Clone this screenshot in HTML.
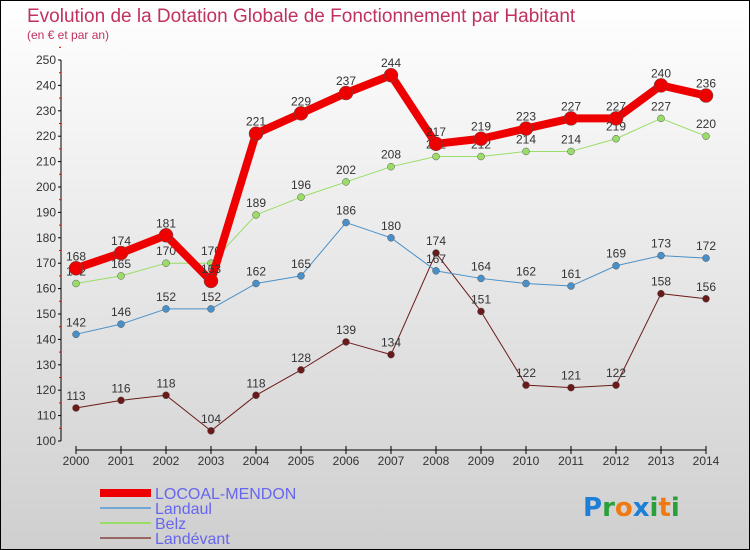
<!DOCTYPE html>
<html><head><meta charset="utf-8"><style>
body{margin:0}
#c{position:relative;width:750px;height:550px;overflow:hidden;font-family:"Liberation Sans",sans-serif}
</style></head><body>
<div id="c">
<svg id="s" width="750" height="550" xmlns="http://www.w3.org/2000/svg">
<defs><linearGradient id="bg" x1="0" y1="0" x2="0" y2="1"><stop offset="0" stop-color="#ffffff"/><stop offset="1" stop-color="#cfcfcf"/></linearGradient></defs>
<rect x="0.5" y="0.5" width="749" height="549" fill="url(#bg)" stroke="#000"/>
<text x="27" y="22" font-size="19" fill="#c0325e">Evolution de la Dotation Globale de Fonctionnement par Habitant</text>
<text x="27" y="39" font-size="12" fill="#c0325e">(en € et par an)</text>
<g id="axes"></g><g id="series"></g>
<g>
<line x1="100" y1="493" x2="151" y2="493" stroke="#e00" stroke-width="8"/>
<text x="155" y="499" font-size="16" fill="#6666ee">LOCOAL-MENDON</text>
<line x1="100" y1="508" x2="151" y2="508" stroke="#6fa8d6" stroke-width="2"/>
<text x="155" y="514" font-size="16" fill="#6666ee">Landaul</text>
<line x1="100" y1="523" x2="151" y2="523" stroke="#99dd66" stroke-width="2"/>
<text x="155" y="529" font-size="16" fill="#6666ee">Belz</text>
<line x1="100" y1="538" x2="151" y2="538" stroke="#996666" stroke-width="2"/>
<text x="155" y="544" font-size="16" fill="#6666ee">Landévant</text>
</g>
<g font-size="26" font-weight="bold" font-family="'DejaVu Sans',sans-serif">
<text x="583" y="516"><tspan fill="#1e7fd6">P</tspan><tspan fill="#2aa03a">r</tspan><tspan fill="#f07a10">o</tspan><tspan fill="#1e7fd6">x</tspan><tspan fill="#2aa03a">i</tspan><tspan fill="#f07a10">t</tspan><tspan fill="#2aa03a">i</tspan></text>
</g>
</svg></div>
<script>
const years=[2000,2001,2002,2003,2004,2005,2006,2007,2008,2009,2010,2011,2012,2013,2014];
const locoal=[168,174,181,163,221,229,237,244,217,219,223,227,227,240,236];
const landaul=[142,146,152,152,162,165,186,180,167,164,162,161,169,173,172];
const belz=[162,165,170,170,189,196,202,208,212,212,214,214,219,227,220];
const landevant=[113,116,118,104,118,128,139,134,174,151,122,121,122,158,156];
const yTicks=[100,110,120,130,140,150,160,170,180,190,200,210,220,230,240,250];
const NS="http://www.w3.org/2000/svg";
function X(i){return 76+i*45;}
function Y(v){return 441-(v-100)*(441-60)/150;}
function mk(t,a,p){const e=document.createElementNS(NS,t);for(const k in a)e.setAttribute(k,a[k]);p.appendChild(e);return e;}
const ax=document.getElementById('axes');
let yl=mk('line',{x1:61,y1:Y(250),x2:61,y2:Y(100),stroke:'#000'},ax);


yTicks.forEach(v=>{
 mk('line',{x1:58,y1:Y(v),x2:61,y2:Y(v),stroke:'#000'},ax);
 mk('line',{x1:59,y1:Y(v+5),x2:61,y2:Y(v+5),stroke:'#e00'},ax);
 const t=mk('text',{x:56,y:Y(v)+4,'font-size':12,fill:'#333','text-anchor':'end'},ax);t.textContent=v;
 
 
});
let xl=mk('line',{x1:X(0),y1:450,x2:X(years.length-1),y2:450,stroke:'#000'},ax);


years.forEach((y,i)=>{
 mk('line',{x1:X(i),y1:446,x2:X(i),y2:454,stroke:'#000'},ax);
 const t=mk('text',{x:X(i),y:465,'font-size':12,fill:'#333','text-anchor':'middle'},ax);t.textContent=y;
 
 
});
const sg=document.getElementById('series');
function draw(data,color,w,r,name){
 const g=mk('g',{},sg);
 
 
 const pl=mk('polyline',{points:data.map((v,i)=>X(i)+','+Y(v)).join(' '),fill:'none',stroke:color,'stroke-width':w,'stroke-linejoin':'round'},g);
 
 
 data.forEach((v,i)=>{
  const c=mk('circle',{cx:X(i),cy:Y(v),r:r,fill:color,stroke:'#555','stroke-width':0.5},g);
  
  
  const t=mk('text',{x:X(i),y:Y(v)-8,'font-size':12,fill:'#333','text-anchor':'middle'},g);t.textContent=v;
  
  
 });
}
draw(landevant,'#6b1a1a',1,3.5,'landevant');
draw(landaul,'#4a90c8',1,3.5,'landaul');
draw(belz,'#99dd66',1,3.5,'belz');
draw(locoal,'#ee0000',8,7,'locoal');
</script>
</body></html>
